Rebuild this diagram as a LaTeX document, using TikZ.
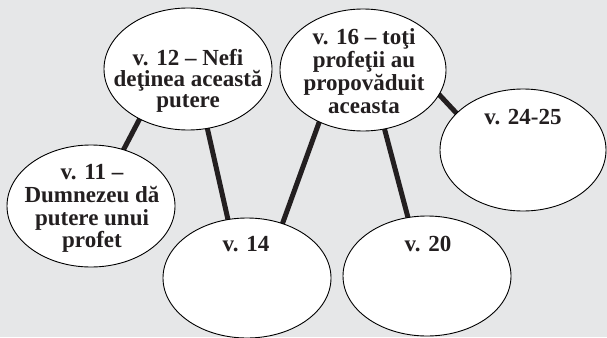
\documentclass[tikz,border=0pt]{standalone}
\usepackage{fontspec}
\setmainfont{Liberation Serif}
\usetikzlibrary{shapes.geometric,backgrounds}
\definecolor{bg}{HTML}{E6E7E8}
\definecolor{ink}{HTML}{231F20}
\begin{document}
\begin{tikzpicture}[x=1pt,y=-1pt,
  bubble/.style={ellipse,draw=black,line width=0.9pt,fill=white,minimum width=168pt,minimum height=122pt,inner sep=0pt},
  txt/.style={font=\fontsize{23}{22}\selectfont\bfseries,text=ink,align=center,inner sep=0pt},
  link/.style={draw=ink,line width=5pt,shorten <=-4pt,shorten >=-4pt}]
\useasboundingbox (0,0) rectangle (607,337);
% bubbles
\node[bubble] (A) at (188,69) {};
\node[bubble] (B) at (91,206) {};
\node[bubble,minimum height=120pt] (C) at (247,278) {};
\node[bubble,minimum width=166pt] (D) at (363,70) {};
\node[bubble,minimum width=166pt] (E) at (523,150) {};
\node[bubble,minimum height=120pt] (F) at (427,276) {};
% texts
\node[txt,font=\fontsize{23}{21}\selectfont\bfseries] (At) at (188,80.5) {v. 12 – Nefi\\deţinea această\\putere};
\node[txt,font=\fontsize{23}{22.7}\selectfont\bfseries] (Bt) at (92,208.7) {v. 11 –\\Dumnezeu dă\\putere unui\\profet};
\node[txt,font=\fontsize{23}{23}\selectfont\bfseries] (Dt) at (364,70.8) {v. 16 – toţi\\profeţii au\\propovăduit\\aceasta};
\node[txt,anchor=base] (Ct) at (246,251.5) {v. 14};
\node[txt,anchor=base] (Ft) at (428,251.5) {v. 20};
\node[txt,anchor=base] (Et) at (523,124.5) {v. 24-25};
% background and links
\begin{pgfonlayer}{background}
\fill[bg] (0,0) rectangle (607,337);
\draw[link] (A.226) -- (B.60);
\draw[link] (A.288) -- (C.108);
\draw[link] (D.230) -- (C.57);
\draw[link] (D.290) -- (F.108);
\draw[link] (D.342) -- (E.151);
\end{pgfonlayer}
\end{tikzpicture}
\end{document}
